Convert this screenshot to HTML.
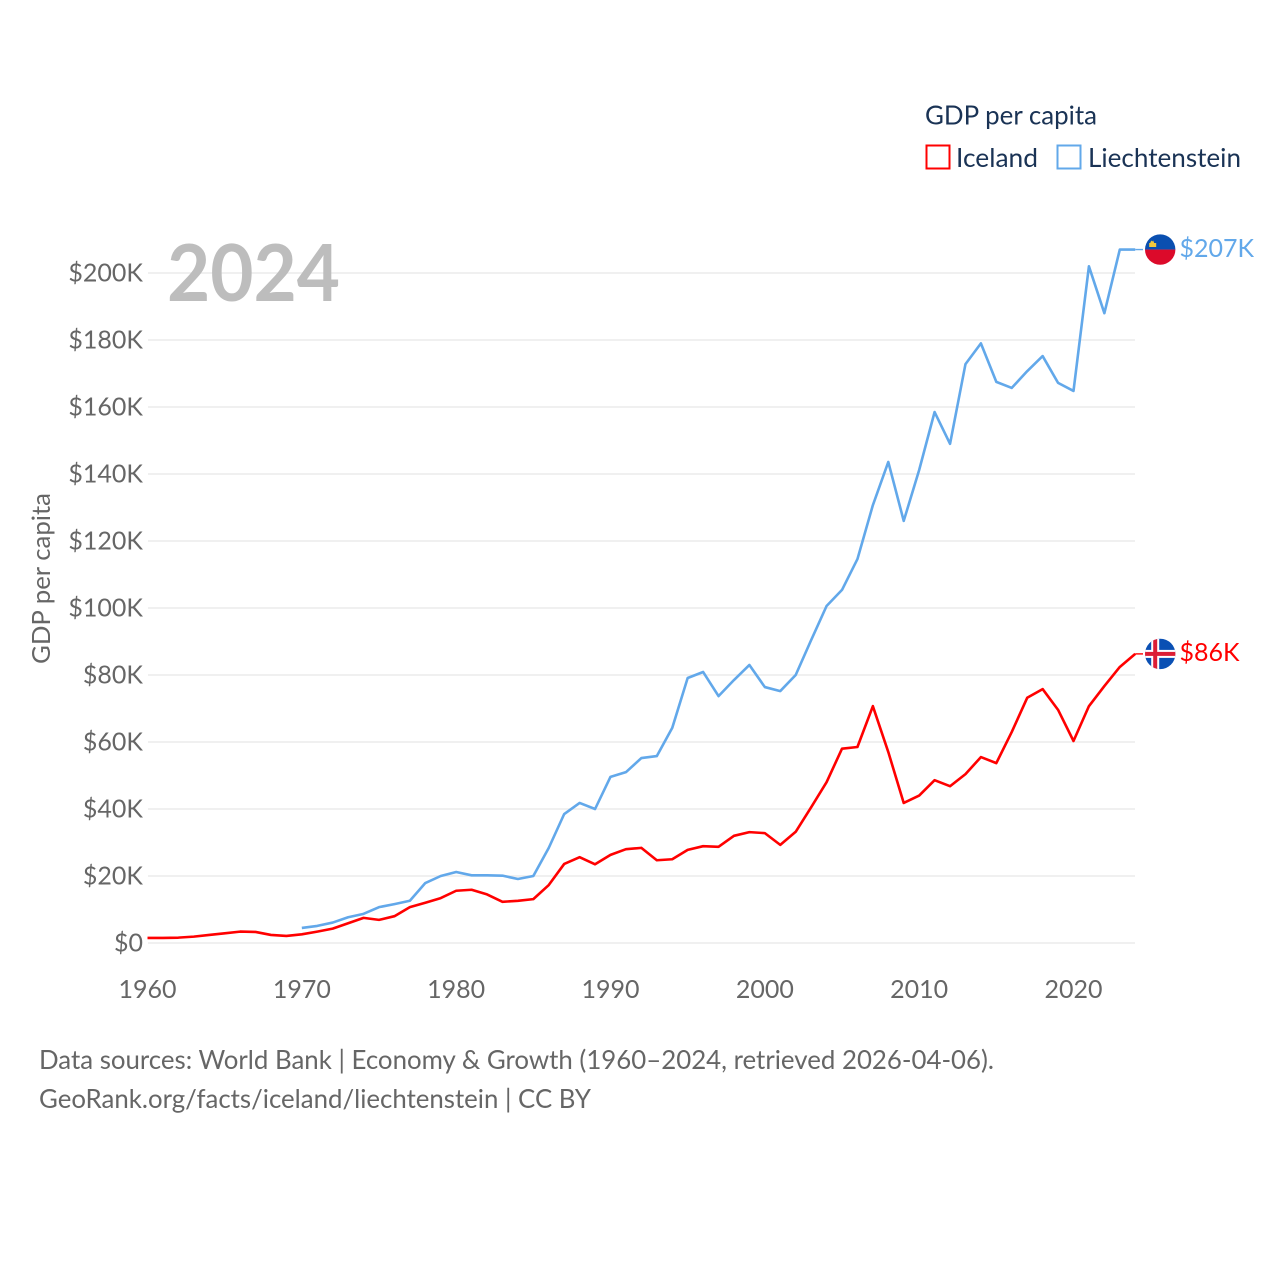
<!DOCTYPE html>
<html lang="en">
<head>
<meta charset="utf-8">
<title>GDP per capita: Iceland and Liechtenstein</title>
<style>
html,body{margin:0;padding:0;background:#fff;width:1280px;height:1280px;overflow:hidden}
svg{display:block}
text{font-family:"Lato","Carlito","Liberation Sans",sans-serif}
</style>
</head>
<body>
<svg id="chart" xmlns="http://www.w3.org/2000/svg" width="1280" height="1280" viewBox="0 0 1280 1280">
  <defs>
    <clipPath id="flag-clip"><circle cx="0" cy="0" r="15.2"/></clipPath>
  </defs>
  <g id="grid"></g>
  <g id="y-axis"></g>
  <g id="x-axis"></g>
  <text x="167" y="301" font-size="79" font-weight="700" fill="#bdbdbd" textLength="173" lengthAdjust="spacingAndGlyphs">2024</text>
  <text transform="translate(50,664) rotate(-90)" font-size="25.5" fill="#666666" textLength="171" lengthAdjust="spacingAndGlyphs">GDP per capita</text>
  <g id="series"></g>
  <g id="ends"></g>

  <g>
    <text x="925" y="124.5" font-size="26" fill="#1a3355" textLength="172" lengthAdjust="spacingAndGlyphs">GDP per capita</text>
    <rect x="926.5" y="145.5" width="23" height="23" fill="none" stroke="#ff0000" stroke-width="2"/>
    <text x="956" y="167" font-size="26" fill="#1a3355" textLength="82" lengthAdjust="spacingAndGlyphs">Iceland</text>
    <rect x="1057.5" y="145.5" width="23" height="23" fill="none" stroke="#62a8ea" stroke-width="2"/>
    <text x="1088" y="167" font-size="26" fill="#1a3355" textLength="153" lengthAdjust="spacingAndGlyphs">Liechtenstein</text>
  </g>

  <text x="39" y="1069" font-size="26" fill="#666666" textLength="955" lengthAdjust="spacingAndGlyphs">Data sources: World Bank | Economy &amp; Growth (1960–2024, retrieved 2026-04-06).</text>
  <text x="39" y="1108" font-size="26" fill="#666666" textLength="552" lengthAdjust="spacingAndGlyphs">GeoRank.org/facts/iceland/liechtenstein | CC BY</text>
</svg>

<script>
const years = [1960,1961,1962,1963,1964,1965,1966,1967,1968,1969,1970,1971,1972,1973,1974,1975,1976,1977,1978,1979,1980,1981,1982,1983,1984,1985,1986,1987,1988,1989,1990,1991,1992,1993,1994,1995,1996,1997,1998,1999,2000,2001,2002,2003,2004,2005,2006,2007,2008,2009,2010,2011,2012,2013,2014,2015,2016,2017,2018,2019,2020,2021,2022,2023,2024];
const icelandValues = [1.5,1.5,1.6,1.9,2.4,2.9,3.4,3.3,2.4,2.1,2.6,3.4,4.3,5.9,7.5,6.9,8.0,10.7,12.0,13.4,15.6,15.9,14.5,12.3,12.6,13.1,17.3,23.6,25.6,23.5,26.3,28.0,28.4,24.7,25.0,27.8,28.9,28.7,32.0,33.1,32.8,29.3,33.2,40.5,48.0,58.0,58.5,70.7,57.0,41.8,44.0,48.6,46.8,50.4,55.5,53.7,63.0,73.2,75.8,69.6,60.3,70.7,76.7,82.4,86.3];
const liechtensteinValues = [null,null,null,null,null,null,null,null,null,null,4.5,5.1,6.1,7.7,8.7,10.7,11.6,12.6,17.9,20.0,21.2,20.2,20.2,20.1,19.1,20.0,28.4,38.5,41.8,40.0,49.6,51.0,55.2,55.8,64.2,79.1,80.9,73.7,78.5,83.0,76.4,75.2,80.0,90.4,100.6,105.4,114.6,130.7,143.6,126.0,141.2,158.5,149.0,172.8,179.0,167.5,165.7,170.7,175.2,167.2,164.8,202.0,188.0,207.0,207.0];
const yTicks = [0,20,40,60,80,100,120,140,160,180,200];
const xTicks = [1960,1970,1980,1990,2000,2010,2020];

const SVG_NS = 'http://www.w3.org/2000/svg';
const xScale = function (year) { return 147.5 + (year - 1960) * (1074 - 148) / 60; };
const yScale = function (value) { return 943 - value * (943 - 273) / 200; };
const money = function (value) { return '$' + (value === 0 ? '0' : Math.round(value) + 'K'); };

function make(tag, attrs, parent, content) {
  const el = document.createElementNS(SVG_NS, tag);
  Object.keys(attrs).forEach(function (k) { el.setAttribute(k, attrs[k]); });
  if (content !== undefined) el.textContent = content;
  parent.appendChild(el);
  return el;
}

const gridGroup = document.getElementById('grid');
const yGroup = document.getElementById('y-axis');
const xGroup = document.getElementById('x-axis');
const seriesGroup = document.getElementById('series');
const endsGroup = document.getElementById('ends');

yTicks.forEach(function (tick) {
  const gridline = make('line', {x1: 148, x2: 1135, y1: yScale(tick), y2: yScale(tick), stroke: '#ebebeb', 'stroke-width': 1.4}, gridGroup);
  
  
  const label = make('text', {x: 143, y: yScale(tick) + 8.5, 'text-anchor': 'end', 'font-size': 25, fill: '#666666'}, yGroup, money(tick));
  
  
});

xTicks.forEach(function (tick) {
  const label = make('text', {x: xScale(tick), y: 998, 'text-anchor': 'middle', 'font-size': 25, fill: '#666666'}, xGroup, String(tick));
  
  
});

function linePath(values) {
  let d = '';
  values.forEach(function (v, i) {
    if (v === null) return;
    d += (d ? 'L' : 'M') + xScale(years[i]).toFixed(2) + ' ' + yScale(v).toFixed(2);
  });
  return d;
}

const liLine = make('path', {d: linePath(liechtensteinValues), fill: 'none', stroke: '#62a8ea', 'stroke-width': 2.6, 'stroke-linejoin': 'round'}, seriesGroup);


const isLine = make('path', {d: linePath(icelandValues), fill: 'none', stroke: '#ff0000', 'stroke-width': 2.6, 'stroke-linejoin': 'round'}, seriesGroup);



function endMarker(values, color) {
  const last = values[values.length - 1];
  const y = yScale(last);
  const connector = make('line', {x1: xScale(2024), x2: 1143, y1: y, y2: y, stroke: color, 'stroke-width': 1.4}, endsGroup);
  
  
  const label = make('text', {x: 1179.5, y: y + 7.2, 'font-size': 25, fill: color}, endsGroup, money(last));
  
  
  const flag = make('g', {transform: 'translate(1160.2,' + y + ')', 'clip-path': 'url(#flag-clip)'}, endsGroup);
  return flag;
}

const liFlag = endMarker(liechtensteinValues, '#62a8ea');


make('rect', {x: -16, y: -16, width: 32, height: 16, fill: '#0a4fb0'}, liFlag);
make('rect', {x: -16, y: 0, width: 32, height: 16, fill: '#dc0a2a'}, liFlag);
make('path', {d: 'M-11 -2.5h7v-4h-2l-1-2.5-1 1-1-1-1 2.5h-1z', fill: '#f5c93a'}, liFlag);

const isFlag = endMarker(icelandValues, '#ff0000');


make('rect', {x: -16, y: -16, width: 32, height: 32, fill: '#0a50b4'}, isFlag);
make('rect', {x: -16, y: -4, width: 32, height: 8, fill: '#ffffff'}, isFlag);
make('rect', {x: -9, y: -16, width: 8, height: 32, fill: '#ffffff'}, isFlag);
make('rect', {x: -16, y: -2, width: 32, height: 4, fill: '#dc1e35'}, isFlag);
make('rect', {x: -7, y: -16, width: 4, height: 32, fill: '#dc1e35'}, isFlag);
</script>
</body>
</html>
